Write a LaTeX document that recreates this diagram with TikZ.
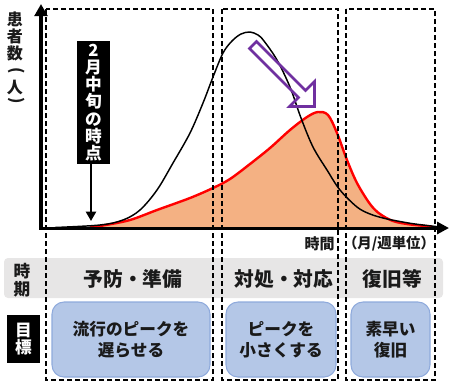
\documentclass[tikz,border=0pt]{standalone}
\usepackage{fontspec}
\usepackage{graphicx}
\newfontfamily\jp{Noto Sans CJK JP}
\usetikzlibrary{arrows.meta}
\definecolor{orfill}{HTML}{F4B183}
\definecolor{bandgray}{HTML}{E7E6E6}
\definecolor{boxblue}{HTML}{B4C7E7}
\definecolor{boxline}{HTML}{8FAADC}
\definecolor{purp}{HTML}{7030A0}
\definecolor{txt}{HTML}{1A1A1A}
\tikzset{
  dashbox/.style={draw=black, line width=1.1pt, dash pattern=on 3.75pt off 2.25pt},
  goalbox/.style={draw=boxline, line width=0.8pt, fill=boxblue, rounded corners=9pt, align=center,
    text=txt, font=\jp\bfseries\fontsize{12.5}{15.5}\selectfont, inner sep=0pt},
  blacklab/.style={fill=black, text=white, align=center, inner sep=0pt, font=\jp\bfseries\fontsize{12.5}{12.9}\selectfont},
  bandtxt/.style={text=txt, font=\jp\bfseries\fontsize{14.8}{16}\selectfont, inner sep=0pt},
  ylab/.style={text=txt, font=\jp\bfseries\fontsize{12}{12}\selectfont, inner sep=0pt},
  axisx/.style={line width=2.25pt, -{Triangle[length=9pt,width=9pt]}},
  axisy/.style={line width=3pt, -{Triangle[length=9pt,width=9.5pt]}},
}
\begin{document}
\begin{tikzpicture}[x=0.75pt,y=-0.75pt]
\useasboundingbox (0,0) rectangle (450,383);
% gray band
\node[fill=bandgray, rounded corners=3pt, minimum width=329.25pt, minimum height=30pt, inner sep=0pt] (band) at (223.5,278) {};
% fill under red curve
\fill[orfill] plot[smooth, tension=0.55] coordinates {(90,227.5) (103,225.5) (130,220) (157,210) (190,198) (213,188) (230,179) (250,164) (270,148) (290,130) (307,117) (318,112) (328,115) (337,133) (347,160) (357,183) (370,204) (380,214) (393,221) (407,224) (420,225.5) (432,226.5)} -- (432,228) -- (90,228) -- cycle;
\draw[red, line width=1.8pt] plot[smooth, tension=0.55] coordinates {(90,227.5) (103,225.5) (130,220) (157,210) (190,198) (213,188) (230,179) (250,164) (270,148) (290,130) (307,117) (318,112) (328,115) (337,133) (347,160) (357,183) (370,204) (380,214) (393,221) (407,224) (420,225.5) (432,226.5)};
% black curve
\draw[black, line width=1.1pt] plot[smooth, tension=0.55] coordinates {(55,227.5) (100,225) (123,220) (140,210) (157,190) (173,163) (190,133) (203,103) (213,77) (223,53) (232,41) (241,34) (250,32) (258,35) (264,41) (277,60) (290,87) (301,118) (313,147) (327,170) (340,190) (357,207) (370,214) (385,218.5) (400,221.5) (415,224) (440,227)};
% purple hollow arrow
\draw[purp, line width=1.9pt, line join=miter] (256.5,41.5) -- (305.5,90.5) -- (314.5,81.5) -- (314.5,106.5) -- (289.5,106.5) -- (298.5,97.5) -- (249.5,48.5) -- cycle;
% dashed boxes
\draw[dashbox] (46,9) rectangle (213,380);
\draw[dashbox] (222,9) rectangle (338,380);
\draw[dashbox] (346,9) rectangle (435,380);
% axes
\coordinate (o) at (41,228);
\coordinate (ytop) at (41,4);
\coordinate (xend) at (449,228);
\draw[axisx] (39,228) -- (xend);
\draw[axisy] (41,229.5) -- (ytop);
% y label
\node[ylab] (y1) at (15,19) {患};
\node[ylab] (y2) at (15,36) {者};
\node[ylab] (y3) at (15,53) {数};
\node[ylab] (y4) at (17,72) {\rotatebox[origin=c]{-90}{(}};
\node[ylab] (y5) at (15,88) {人};
\node[ylab] (y6) at (17,102) {\rotatebox[origin=c]{-90}{)}};
% February marker
\node[blacklab, minimum width=24.75pt, minimum height=92.25pt] (feb) at (93.5,102.5) {2\\月\\中\\旬\\の\\時\\点};
\coordinate (febtip) at (91,221);
\draw[line width=1.6pt, -{Triangle[length=7pt,width=7.5pt]}] (feb.south -| febtip) -- (febtip);
% time label
\node[text=txt, font=\jp\bfseries\fontsize{11.25}{12}\selectfont, anchor=east, inner sep=0pt] (tlab) at (335,244) {時間};
\node[text=txt, font=\jp\bfseries\fontsize{10.8}{12}\selectfont, inner sep=0pt] (ulab) at (389,244) {（月/週単位）};
% band texts
\node[ylab, align=center, font=\jp\bfseries\fontsize{12.5}{13.5}\selectfont] (jiki) at (22,280) {時\\期};
\node[bandtxt] (p1) at (133,279) {予防・準備};
\node[bandtxt] (p2) at (284,279) {対処・対応};
\node[bandtxt] (p3) at (392.5,279) {復旧等};
% goal label
\node[blacklab, minimum width=24.75pt, minimum height=36pt, font=\jp\bfseries\fontsize{12.5}{13}\selectfont] (mokuhyo) at (23.5,339) {目\\標};
% goal boxes
\node[goalbox, minimum width=118.5pt, minimum height=56.25pt] (g1) at (131,339.5) {流行のピークを\\遅らせる};
\node[goalbox, minimum width=82.5pt, minimum height=56.25pt] (g2) at (281,339.5) {ピークを\\小さくする};
\node[goalbox, minimum width=59.25pt, minimum height=56.25pt] (g3) at (390.5,339.5) {素早い\\復旧};
\end{tikzpicture}
\end{document}
